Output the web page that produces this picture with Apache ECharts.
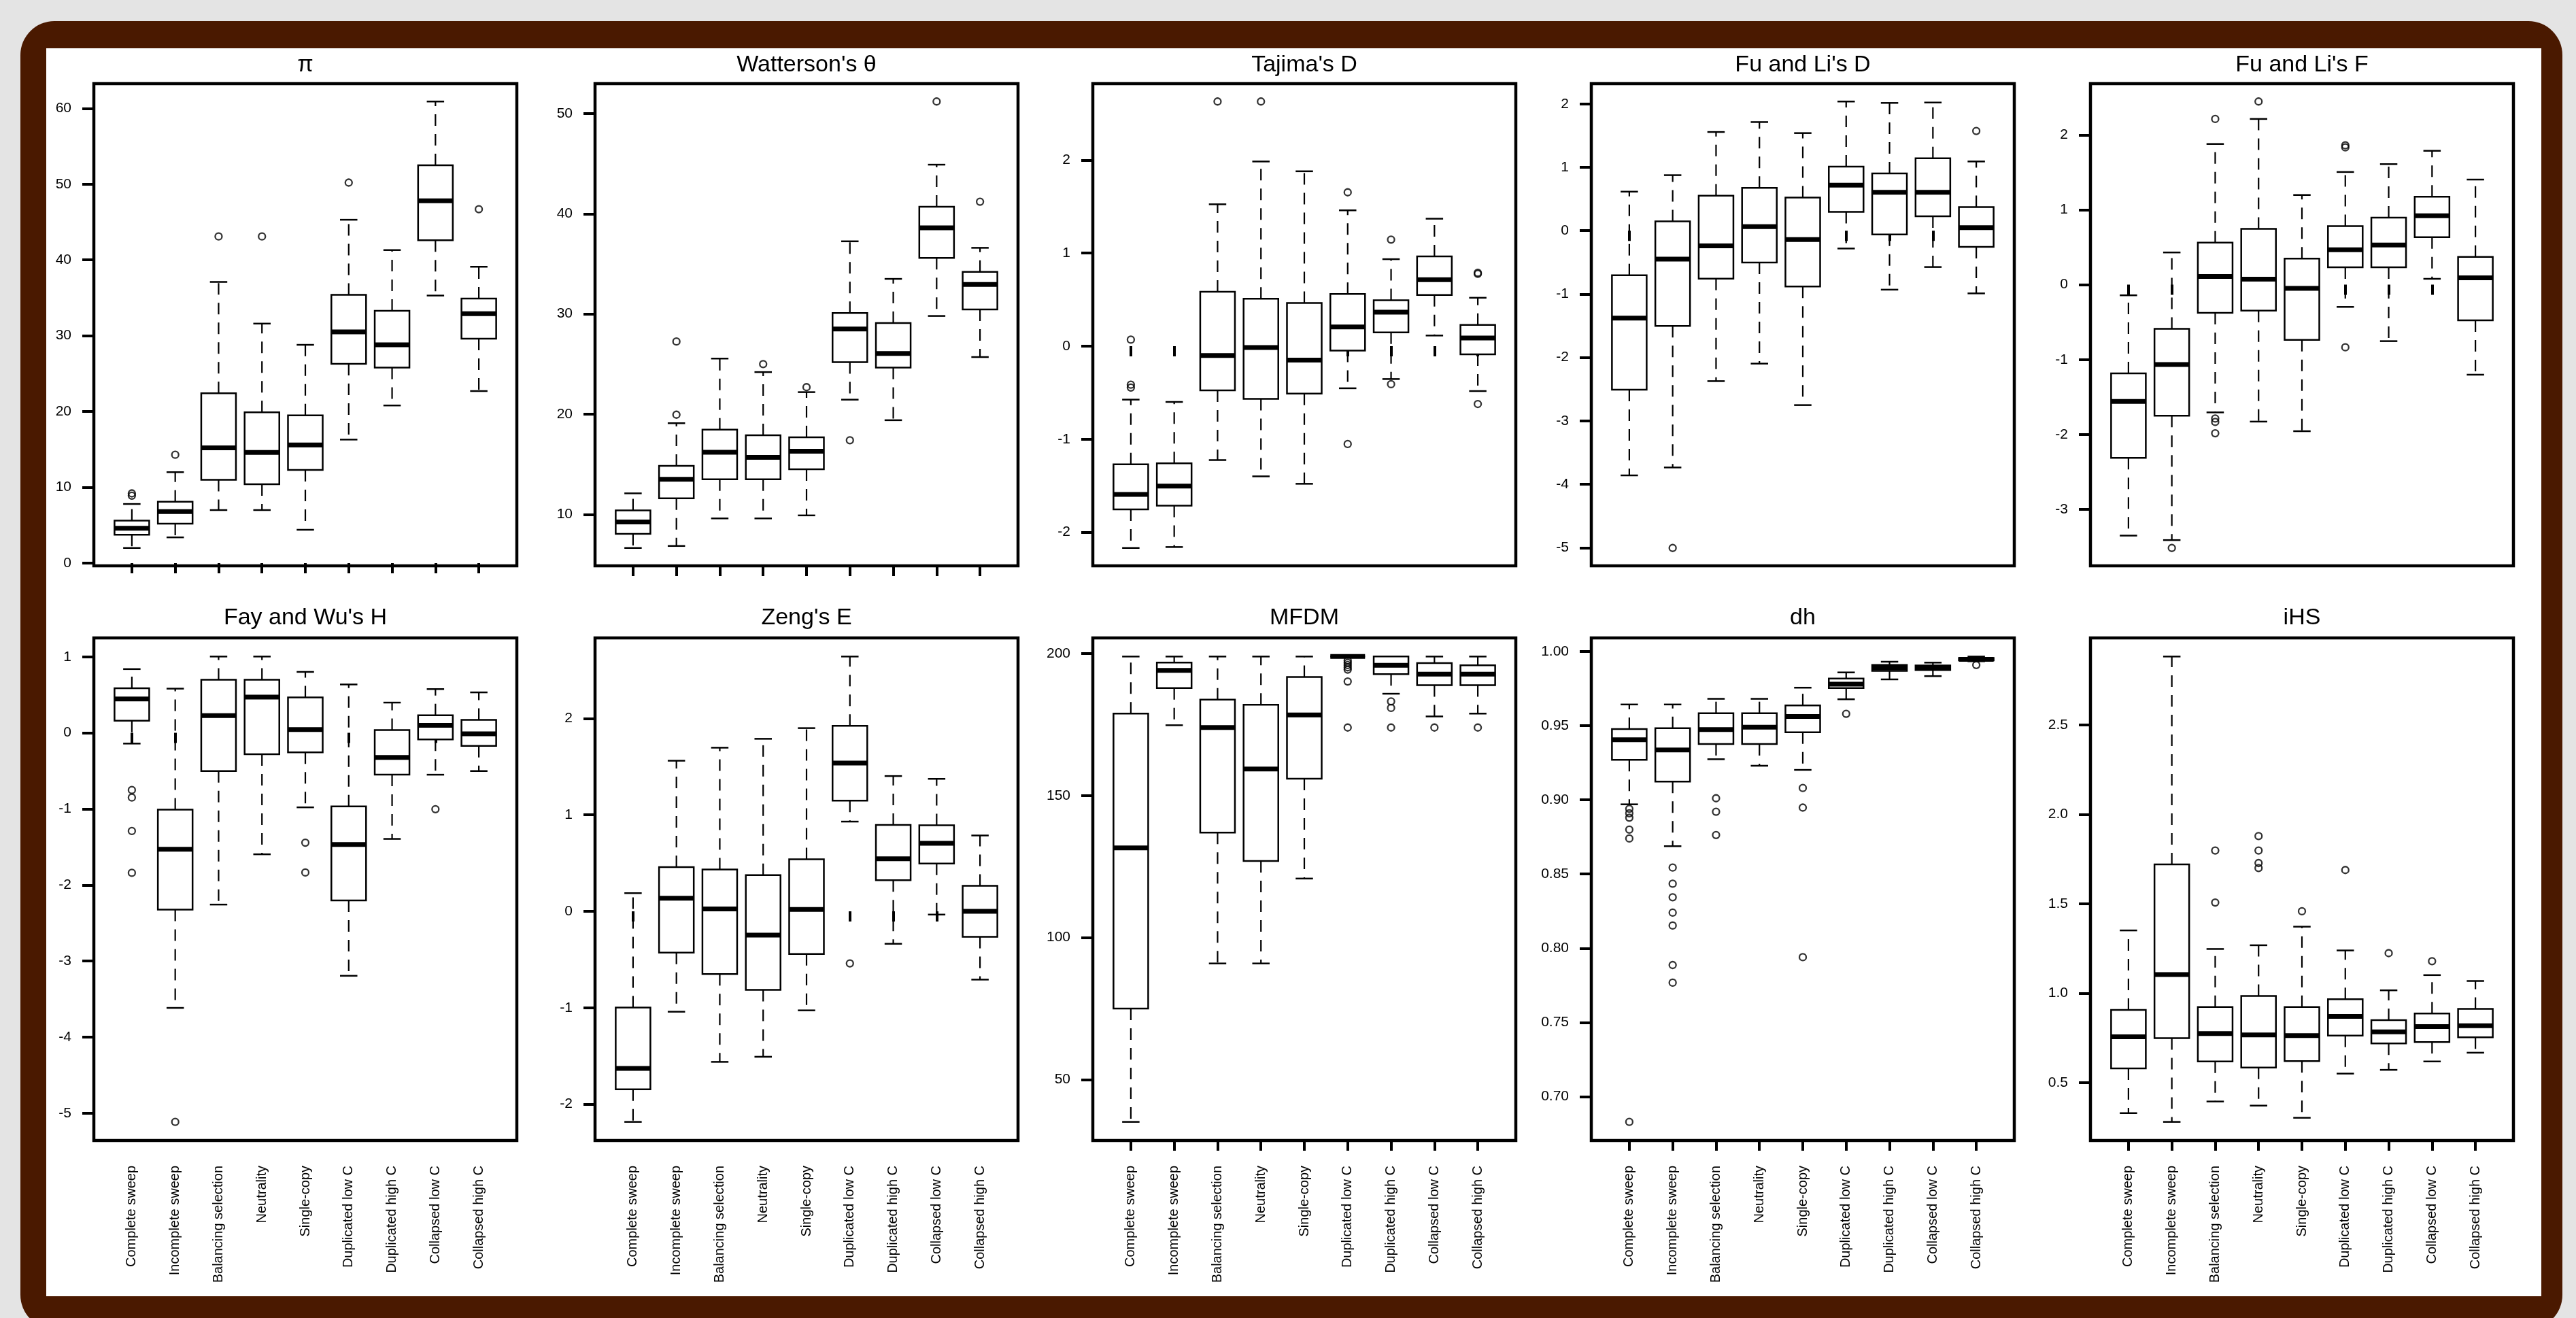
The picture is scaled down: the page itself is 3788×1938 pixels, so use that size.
<!DOCTYPE html>
<html>
<head>
<meta charset="utf-8">
<title>Summary statistics by scenario</title>
<script src="https://cdn.jsdelivr.net/npm/echarts@6/dist/echarts.min.js"></script>
<style>
  html, body { margin: 0; padding: 0; width: 3788px; height: 1938px; overflow: hidden; background: #e4e4e4; }
  #frame { position: absolute; left: 30px; top: 31px; width: 3738px; height: 1923px; background: #4a1900; border-radius: 50px; }
  #paper { position: absolute; left: 68px; top: 71px; width: 3669px; height: 1835px; background: #fff; }
  #chart { position: absolute; left: 0; top: 0; width: 3788px; height: 1938px; }
</style>
</head>
<body>
<div id="frame"></div>
<div id="paper"></div>
<div id="chart"></div>
<script>
var categories = ['Complete sweep', 'Incomplete sweep', 'Balancing selection', 'Neutrality', 'Single-copy',
  'Duplicated low C', 'Duplicated high C', 'Collapsed low C', 'Collapsed high C'];

// each box: [lower whisker, Q1, median, Q3, upper whisker]; outliers: [category index, value]
var piBoxes = [[2.0, 3.75, 4.6, 5.6, 7.8], [3.4, 5.2, 6.8, 8.1, 12.0], [7.0, 11.0, 15.2, 22.4, 37.1],
  [7.0, 10.4, 14.6, 19.9, 31.6], [4.4, 12.3, 15.6, 19.5, 28.8], [16.3, 26.3, 30.5, 35.4, 45.3],
  [20.8, 25.8, 28.8, 33.3, 41.3], [35.3, 42.6, 47.8, 52.5, 60.9], [22.7, 29.6, 32.9, 34.9, 39.1]];
var piOutliers = [[0, 8.9], [0, 9.2], [1, 14.3], [2, 43.1], [3, 43.1], [5, 50.2], [8, 46.7]];
var piTicks = [0, 10, 20, 30, 40, 50, 60];

var thetaBoxes = [[6.65, 8.05, 9.25, 10.4, 12.1], [6.85, 11.6, 13.5, 14.85, 19.1], [9.6, 13.5, 16.2, 18.45, 25.55],
  [9.6, 13.5, 15.7, 17.9, 24.2], [9.9, 14.5, 16.3, 17.7, 22.2], [21.45, 25.2, 28.5, 30.1, 37.25],
  [19.4, 24.65, 26.05, 29.1, 33.5], [29.8, 35.6, 38.6, 40.7, 44.9], [25.7, 30.45, 32.95, 34.2, 36.6]];
var thetaOutliers = [[1, 19.95], [1, 27.25], [3, 25.0], [4, 22.7], [5, 17.4], [7, 51.2], [8, 41.2]];
var thetaTicks = [10, 20, 30, 40, 50];

var tajimaBoxes = [[-2.17, -1.755, -1.595, -1.27, -0.575], [-2.16, -1.715, -1.505, -1.26, -0.6],
  [-1.225, -0.475, -0.10, 0.585, 1.525], [-1.40, -0.567, -0.015, 0.51, 1.985], [-1.48, -0.51, -0.15, 0.464, 1.88],
  [-0.453, -0.048, 0.206, 0.56, 1.46], [-0.354, 0.147, 0.365, 0.494, 0.935], [0.114, 0.549, 0.715, 0.965, 1.37],
  [-0.483, -0.088, 0.088, 0.228, 0.52]];
var tajimaOutliers = [[0, 0.07], [0, -0.415], [0, -0.445], [2, 2.63], [3, 2.63], [5, 1.654], [5, -1.053],
  [6, 1.145], [6, -0.409], [8, 0.788], [8, 0.777], [8, -0.622]];
var tajimaTicks = [-2, -1, 0, 1, 2];

var fuLiDBoxes = [[-3.86, -2.508, -1.378, -0.703, 0.616], [-3.735, -1.503, -0.449, 0.146, 0.876],
  [-2.373, -0.757, -0.238, 0.551, 1.557], [-2.097, -0.503, 0.065, 0.676, 1.714], [-2.751, -0.881, -0.14, 0.524, 1.54],
  [-0.281, 0.297, 0.719, 1.011, 2.038], [-0.93, -0.059, 0.605, 0.903, 2.016], [-0.573, 0.227, 0.605, 1.141, 2.022],
  [-0.989, -0.254, 0.049, 0.373, 1.092]];
var fuLiDOutliers = [[1, -5.005], [8, 1.573]];
var fuLiDTicks = [-5, -4, -3, -2, -1, 0, 1, 2];

var fuLiFBoxes = [[-3.35, -2.313, -1.558, -1.184, -0.142], [-3.41, -1.75, -1.065, -0.59, 0.43],
  [-1.705, -0.375, 0.11, 0.562, 1.878], [-1.828, -0.347, 0.073, 0.745, 2.212], [-1.956, -0.736, -0.05, 0.347, 1.197],
  [-0.297, 0.233, 0.466, 0.782, 1.504], [-0.754, 0.233, 0.53, 0.896, 1.609], [0.078, 0.635, 0.919, 1.175, 1.787],
  [-1.202, -0.475, 0.091, 0.37, 1.403]];
var fuLiFOutliers = [[1, -3.515], [2, 2.212], [2, -1.787], [2, -1.833], [2, -1.984], [3, 2.445],
  [5, 1.86], [5, 1.833], [5, -0.836]];
var fuLiFTicks = [-3, -2, -1, 0, 1, 2];

var fayWuBoxes = [[-0.141, 0.159, 0.446, 0.587, 0.838], [-3.615, -2.324, -1.529, -1.009, 0.581],
  [-2.257, -0.502, 0.226, 0.697, 1.003], [-1.596, -0.281, 0.471, 0.697, 1.003], [-0.979, -0.257, 0.043, 0.465, 0.801],
  [-3.193, -2.202, -1.468, -0.966, 0.636], [-1.394, -0.55, -0.324, 0.037, 0.398], [-0.55, -0.086, 0.098, 0.232, 0.575],
  [-0.502, -0.171, -0.012, 0.171, 0.532]];
var fayWuOutliers = [[0, -0.752], [0, -0.85], [0, -1.29], [0, -1.84], [1, -5.113], [4, -1.443], [4, -1.835], [7, -1.003]];
var fayWuTicks = [-5, -4, -3, -2, -1, 0, 1];

var zengBoxes = [[-2.183, -1.846, -1.629, -0.998, 0.188], [-1.041, -0.429, 0.135, 0.458, 1.561],
  [-1.561, -0.651, 0.024, 0.434, 1.696], [-1.508, -0.814, -0.246, 0.376, 1.788], [-1.027, -0.443, 0.019, 0.54, 1.899],
  [0.93, 1.147, 1.537, 1.923, 2.641], [-0.337, 0.323, 0.545, 0.896, 1.402], [-0.034, 0.496, 0.704, 0.892, 1.373],
  [-0.708, -0.265, 0.0, 0.265, 0.786]];
var zengOutliers = [[5, -0.54]];
var zengTicks = [-2, -1, 0, 1, 2];

var mfdmBoxes = [[35.1, 75.0, 131.6, 178.9, 199], [174.8, 187.9, 194.1, 196.9, 199], [90.9, 137.0, 174.0, 183.8, 199],
  [90.9, 127.0, 159.4, 182.0, 199], [120.8, 156.0, 178.4, 191.8, 199], [199, 199, 199, 199, 199],
  [185.9, 192.8, 195.9, 199, 199], [177.9, 188.9, 192.8, 196.7, 199], [178.9, 188.9, 192.8, 195.9, 199]];
var mfdmOutliers = [[5, 197.6], [5, 196.8], [5, 196.0], [5, 195.2], [5, 194.4], [5, 190.2], [5, 174.0],
  [6, 183.2], [6, 180.9], [6, 174.0], [7, 174.0], [8, 174.0]];
var mfdmTicks = [50, 100, 150, 200];

var dhBoxes = [[0.897, 0.927, 0.9405, 0.9477, 0.9643], [0.8688, 0.9123, 0.9336, 0.9483, 0.9643],
  [0.9274, 0.9377, 0.9474, 0.9584, 0.9681], [0.923, 0.9377, 0.949, 0.9584, 0.9681], [0.9202, 0.9455, 0.9562, 0.9637, 0.9756],
  [0.9678, 0.9753, 0.978, 0.9818, 0.9859], [0.9812, 0.9869, 0.989, 0.9909, 0.9931], [0.9834, 0.9875, 0.989, 0.9906, 0.9925],
  [0.9934, 0.994, 0.9947, 0.9956, 0.9966]];
var dhOutliers = [[0, 0.894], [0, 0.891], [0, 0.888], [0, 0.880], [0, 0.874], [0, 0.683],
  [1, 0.8544], [1, 0.8435], [1, 0.8344], [1, 0.824], [1, 0.8153], [1, 0.7887], [1, 0.7768],
  [2, 0.9011], [2, 0.892], [2, 0.8763], [4, 0.908], [4, 0.8948], [4, 0.794], [5, 0.958], [8, 0.9909]];
var dhTicks = [0.70, 0.75, 0.80, 0.85, 0.90, 0.95, 1.00];

var ihsBoxes = [[0.329, 0.579, 0.756, 0.906, 1.351], [0.280, 0.748, 1.104, 1.720, 2.883], [0.394, 0.618, 0.774, 0.922, 1.247],
  [0.371, 0.584, 0.766, 0.984, 1.268], [0.303, 0.620, 0.763, 0.922, 1.372], [0.550, 0.763, 0.870, 0.966, 1.239],
  [0.571, 0.719, 0.784, 0.849, 1.016], [0.618, 0.727, 0.813, 0.886, 1.101], [0.667, 0.753, 0.818, 0.912, 1.068]];
var ihsOutliers = [[2, 1.798], [2, 1.507], [3, 1.879], [3, 1.798], [3, 1.728], [3, 1.70], [4, 1.458],
  [5, 1.689], [6, 1.224], [7, 1.179]];
var ihsTicks = [0.5, 1.0, 1.5, 2.0, 2.5];

var panels = [
  {title: 'π', boxes: piBoxes, outliers: piOutliers, ticks: piTicks, digits: 0},
  {title: "Watterson's θ", boxes: thetaBoxes, outliers: thetaOutliers, ticks: thetaTicks, digits: 0},
  {title: "Tajima's D", boxes: tajimaBoxes, outliers: tajimaOutliers, ticks: tajimaTicks, digits: 0},
  {title: "Fu and Li's D", boxes: fuLiDBoxes, outliers: fuLiDOutliers, ticks: fuLiDTicks, digits: 0},
  {title: "Fu and Li's F", boxes: fuLiFBoxes, outliers: fuLiFOutliers, ticks: fuLiFTicks, digits: 0},
  {title: "Fay and Wu's H", boxes: fayWuBoxes, outliers: fayWuOutliers, ticks: fayWuTicks, digits: 0},
  {title: "Zeng's E", boxes: zengBoxes, outliers: zengOutliers, ticks: zengTicks, digits: 0},
  {title: 'MFDM', boxes: mfdmBoxes, outliers: mfdmOutliers, ticks: mfdmTicks, digits: 0},
  {title: 'dh', boxes: dhBoxes, outliers: dhOutliers, ticks: dhTicks, digits: 2},
  {title: 'iHS', boxes: ihsBoxes, outliers: ihsOutliers, ticks: ihsTicks, digits: 1}
];

// panel layout (px)
var colLeft = [138, 875, 1607, 2340, 3074];
var frameW = 622;
var rowTop = [123, 938];
var rowBottom = [832, 1677];
var titleY = [96, 909];
var inset = 24;   // R's 4% x-range extension
var FONT = '"Liberation Sans", Arial, Helvetica, sans-serif';

// R-style y range: data range plus 4% each side
function rangeOf(boxes, outs) {
  var vals = [];
  boxes.forEach(function (b) { vals = vals.concat(b); });
  outs.forEach(function (o) { vals.push(o[1]); });
  var lo = Math.min.apply(null, vals), hi = Math.max.apply(null, vals);
  var pad = (hi - lo) * 0.04;
  return [lo - pad, hi + pad];
}

function seg(x1, y1, x2, y2, w, dash) {
  var st = {stroke: '#000', lineWidth: w, lineCap: 'butt'};
  if (dash) st.lineDash = dash;
  return {type: 'line', shape: {x1: x1, y1: y1, x2: x2, y2: y2}, style: st};
}

function renderBox(params, api) {
  var i = api.value(0);
  var lo = api.coord([i, api.value(1)]);
  var q1 = api.coord([i, api.value(2)]);
  var md = api.coord([i, api.value(3)]);
  var q3 = api.coord([i, api.value(4)]);
  var hi = api.coord([i, api.value(5)]);
  var band = api.size([1, 0])[0];
  var x = lo[0], hw = band * 0.4, sw = band * 0.2;
  return {
    type: 'group',
    children: [
      seg(x, q3[1], x, hi[1], 2.2, [17, 12]),
      seg(x, q1[1], x, lo[1], 2.2, [17, 12]),
      seg(x - sw, hi[1], x + sw, hi[1], 2.5),
      seg(x - sw, lo[1], x + sw, lo[1], 2.5),
      {type: 'rect', shape: {x: x - hw, y: q3[1], width: 2 * hw, height: q1[1] - q3[1]},
        style: {fill: '#fff', stroke: '#000', lineWidth: 2.5}},
      seg(x - hw, md[1], x + hw, md[1], 7)
    ]
  };
}

var grids = [], xAxes = [], yAxes = [], series = [], graphics = [];

panels.forEach(function (p, k) {
  var r = Math.floor(k / 5), c = k % 5;
  var left = colLeft[c], top = rowTop[r], h = rowBottom[r] - rowTop[r];
  var ext = rangeOf(p.boxes, p.outliers);

  grids.push({left: left + inset, top: top, width: frameW - 2 * inset, height: h, containLabel: false});

  xAxes.push({
    type: 'category', gridIndex: k, data: categories, boundaryGap: true,
    axisLine: {show: false},
    axisTick: {show: true, alignWithLabel: true, interval: 0, length: 15, lineStyle: {color: '#000', width: 4}},
    axisLabel: {show: r === 1, interval: 0, rotate: 90, margin: 37, fontSize: 20, fontFamily: FONT, color: '#000'},
    splitLine: {show: false}
  });

  yAxes.push({
    type: 'value', gridIndex: k, min: ext[0], max: ext[1], offset: inset,
    axisLine: {show: false},
    axisTick: {show: true, length: 17, customValues: p.ticks, lineStyle: {color: '#000', width: 4}},
    axisLabel: {
      customValues: p.ticks, margin: 33, fontSize: 21, fontFamily: FONT, color: '#000',
      formatter: (function (d) { return function (v) { return Number(v).toFixed(d); }; })(p.digits)
    },
    splitLine: {show: false}
  });

  series.push({
    type: 'custom', xAxisIndex: k, yAxisIndex: k,
    renderItem: renderBox,
    encode: {x: 0, y: [1, 2, 3, 4, 5]},
    data: p.boxes.map(function (b, i) { return [i].concat(b); }),
    silent: true
  });

  series.push({
    type: 'scatter', xAxisIndex: k, yAxisIndex: k,
    symbol: 'circle', symbolSize: 10,
    itemStyle: {color: 'rgba(0,0,0,0)', borderColor: '#000', borderWidth: 2.3},
    data: p.outliers,
    silent: true, z: 5
  });

  // panel frame
  graphics.push({
    type: 'rect', z: 10,
    shape: {x: left, y: top, width: frameW, height: h},
    style: {fill: null, stroke: '#000', lineWidth: 4.5}
  });
  // panel title
  graphics.push({
    type: 'text', z: 10, x: left + frameW / 2, y: titleY[r],
    style: {text: p.title, fontSize: 34, fontFamily: FONT, fill: '#000', align: 'center', verticalAlign: 'middle'}
  });
});

var chart = echarts.init(document.getElementById('chart'));
chart.setOption({
  animation: false,
  backgroundColor: 'transparent',
  grid: grids,
  xAxis: xAxes,
  yAxis: yAxes,
  series: series,
  graphic: graphics
});

window.addEventListener('resize', function () {
  chart.resize();
});
</script>
</body>
</html>
